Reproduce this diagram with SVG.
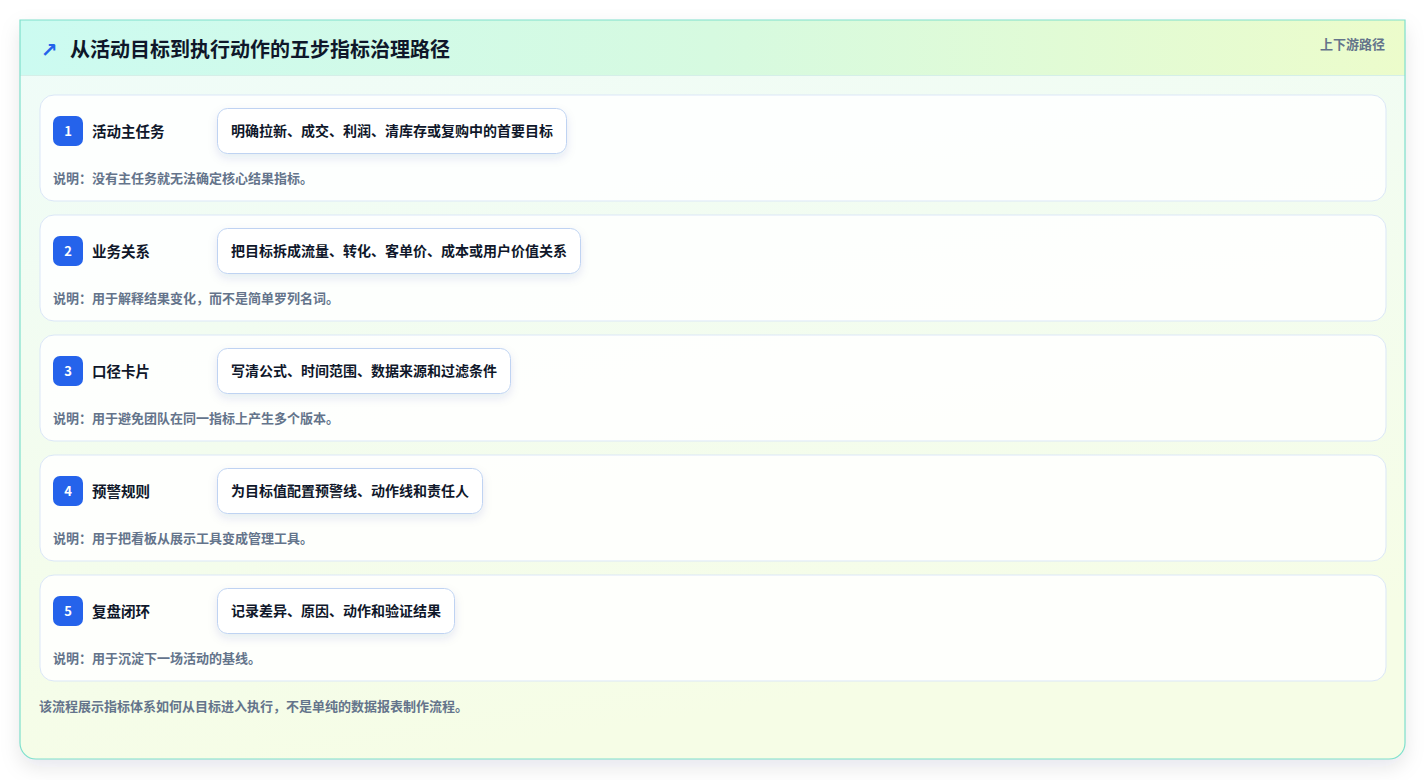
<svg xmlns="http://www.w3.org/2000/svg" width="1426" height="780" viewBox="0 0 1426 780">
  <defs>
    <linearGradient id="hdr" x1="0" y1="0" x2="1" y2="0">
      <stop offset="0" stop-color="#ccfbf1"/>
      <stop offset="0.5" stop-color="#d6fae0"/>
      <stop offset="1" stop-color="#ecfccb"/>
    </linearGradient>
    <linearGradient id="body" x1="0" y1="0" x2="0.3" y2="1">
      <stop offset="0" stop-color="#effcf9"/>
      <stop offset="1" stop-color="#f6fde6"/>
    </linearGradient>
    <filter id="cardShadow" x="-5%" y="-5%" width="110%" height="115%">
      <feDropShadow dx="0" dy="8" stdDeviation="10" flood-color="#0f172a" flood-opacity="0.10"/>
    </filter>
    <filter id="pillShadow" x="-10%" y="-30%" width="120%" height="180%">
      <feDropShadow dx="0" dy="4" stdDeviation="5" flood-color="#1e3a8a" flood-opacity="0.10"/>
    </filter>
    <clipPath id="cardClip">
      <path d="M20 20 H1405 V743 A16 16 0 0 1 1389 759 H36 A16 16 0 0 1 20 743 Z"/>
    </clipPath>
  </defs>
  <style>
    text { font-family: "Noto Sans CJK SC", "Noto Sans", sans-serif; font-weight: 700; }
    .title { font-size: 20px; fill: #0f172a; }
    .tag { font-size: 13px; fill: #64748b; }
    .row { fill: #ffffff; fill-opacity: 0.85; stroke: #dbe7f7; stroke-width: 1; }
    .badge { fill: #2563eb; }
    .num { font-size: 13px; fill: #ffffff; text-anchor: middle; }
    .label { font-size: 14.5px; fill: #0f172a; }
    .pill { fill: #ffffff; stroke: #bfd3f2; stroke-width: 1; filter: url(#pillShadow); }
    .ptext { font-size: 14px; fill: #0f172a; text-anchor: middle; }
    .note { font-size: 13px; fill: #64748b; }
  </style>

  <g id="card">
    <path d="M20 20 H1405 V743 A16 16 0 0 1 1389 759 H36 A16 16 0 0 1 20 743 Z" fill="url(#body)" filter="url(#cardShadow)"/>
    <g clip-path="url(#cardClip)">
      <rect x="20" y="20" width="1385" height="55" fill="url(#hdr)"/>
      <line x1="20" y1="75.5" x2="1405" y2="75.5" stroke="#d5efe8" stroke-width="1"/>
    </g>
    <path d="M20 20 H1405 V743 A16 16 0 0 1 1389 759 H36 A16 16 0 0 1 20 743 Z" fill="none" stroke="#7ee0cc" stroke-width="1.2"/>
  </g>

  <g id="header">
    <text x="41" y="57" font-size="20" fill="#2563eb" style="font-family:'DejaVu Sans',sans-serif;font-weight:700">↗</text>
    <text class="title" x="70" y="56.5">从活动目标到执行动作的五步指标治理路径</text>
    <text class="tag" x="1385" y="49" text-anchor="end">上下游路径</text>
  </g>

  <g id="step1">
    <rect class="row" x="40" y="95" width="1346" height="106" rx="14"/>
    <rect class="badge" x="53" y="116" width="30" height="30" rx="7"/>
    <text class="num" x="68" y="136">1</text>
    <text class="label" x="92" y="136.5">活动主任务</text>
    <rect class="pill" x="217.5" y="108.5" width="349" height="45" rx="10"/>
    <text class="ptext" x="392" y="136">明确拉新、成交、利润、清库存或复购中的首要目标</text>
    <text class="note" x="53" y="182.5">说明：没有主任务就无法确定核心结果指标。</text>
  </g>

  <g id="step2">
    <rect class="row" x="40" y="215" width="1346" height="106" rx="14"/>
    <rect class="badge" x="53" y="236" width="30" height="30" rx="7"/>
    <text class="num" x="68" y="256">2</text>
    <text class="label" x="92" y="256.5">业务关系</text>
    <rect class="pill" x="217.5" y="228.5" width="363" height="45" rx="10"/>
    <text class="ptext" x="399" y="256">把目标拆成流量、转化、客单价、成本或用户价值关系</text>
    <text class="note" x="53" y="302.5">说明：用于解释结果变化，而不是简单罗列名词。</text>
  </g>

  <g id="step3">
    <rect class="row" x="40" y="335" width="1346" height="106" rx="14"/>
    <rect class="badge" x="53" y="356" width="30" height="30" rx="7"/>
    <text class="num" x="68" y="376">3</text>
    <text class="label" x="92" y="376.5">口径卡片</text>
    <rect class="pill" x="217.5" y="348.5" width="293" height="45" rx="10"/>
    <text class="ptext" x="364" y="376">写清公式、时间范围、数据来源和过滤条件</text>
    <text class="note" x="53" y="422.5">说明：用于避免团队在同一指标上产生多个版本。</text>
  </g>

  <g id="step4">
    <rect class="row" x="40" y="455" width="1346" height="106" rx="14"/>
    <rect class="badge" x="53" y="476" width="30" height="30" rx="7"/>
    <text class="num" x="68" y="496">4</text>
    <text class="label" x="92" y="496.5">预警规则</text>
    <rect class="pill" x="217.5" y="468.5" width="265" height="45" rx="10"/>
    <text class="ptext" x="350" y="496">为目标值配置预警线、动作线和责任人</text>
    <text class="note" x="53" y="542.5">说明：用于把看板从展示工具变成管理工具。</text>
  </g>

  <g id="step5">
    <rect class="row" x="40" y="575" width="1346" height="106" rx="14"/>
    <rect class="badge" x="53" y="596" width="30" height="30" rx="7"/>
    <text class="num" x="68" y="616">5</text>
    <text class="label" x="92" y="616.5">复盘闭环</text>
    <rect class="pill" x="217.5" y="588.5" width="237" height="45" rx="10"/>
    <text class="ptext" x="336" y="616">记录差异、原因、动作和验证结果</text>
    <text class="note" x="53" y="662.5">说明：用于沉淀下一场活动的基线。</text>
  </g>

  <g id="connectors"></g>

  <g id="footer">
    <text class="note" x="39" y="710.5">该流程展示指标体系如何从目标进入执行，不是单纯的数据报表制作流程。</text>
  </g>
</svg>
